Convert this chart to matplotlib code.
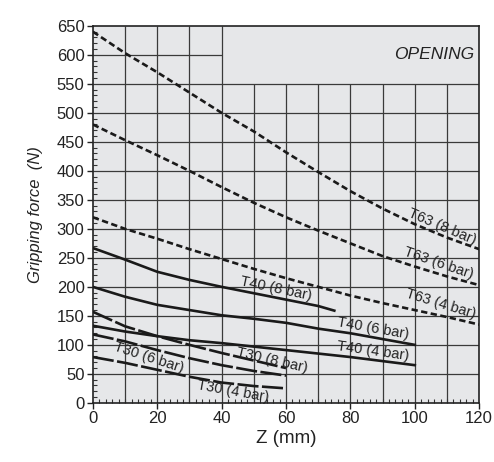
import numpy as np
import matplotlib
matplotlib.use("Agg")
import matplotlib.pyplot as plt

# stroke Z (mm) at each sample point
z_long = [0, 10, 20, 30, 40, 50, 60, 70, 80, 90, 100, 110, 120]
z_t40_8 = [0, 10, 20, 30, 40, 50, 60, 70, 75]
z_t40 = [0, 10, 20, 30, 40, 50, 60, 70, 80, 90, 100]
z_t30 = [0, 10, 20, 30, 40, 50, 60]

# gripping force (N)
t63_8 = [640, 603, 570, 535, 500, 468, 432, 398, 365, 335, 308, 285, 265]
t63_6 = [480, 453, 427, 400, 372, 345, 320, 297, 275, 253, 235, 218, 203]
t63_4 = [320, 300, 283, 265, 248, 231, 215, 200, 185, 172, 160, 148, 135]
t40_8 = [267, 247, 226, 212, 200, 189, 178, 167, 159]
t40_6 = [200, 183, 169, 160, 151, 145, 138, 128, 120, 110, 100]
t40_4 = [133, 123, 115, 108, 103, 97, 91, 85, 79, 72, 65]
t30_8 = [157, 132, 115, 100, 86, 73, 60]
t30_6 = [118, 106, 91, 77, 65, 55, 47]
t30_4 = [79, 69, 57, 45, 35, 29, 25]

# label text, anchor (z, force), rotation
labels = [
    ("T63 (8 bar)", 108.5, 303, -23),
    ("T63 (6 bar)", 107.5, 240, -19),
    ("T63 (4 bar)", 108.0, 170, -17),
    ("T40 (8 bar)", 57.0, 197, -12),
    ("T40 (6 bar)", 87.0, 128, -10),
    ("T40 (4 bar)", 87.0, 89, -8),
    ("T30 (8 bar)", 55.6, 74, -13),
    ("T30 (6 bar)", 17.4, 78, -18),
    ("T30 (4 bar)", 43.5, 20, -10),
]

plt.rcParams["font.family"] = ["Liberation Sans", "DejaVu Sans"]

fig = plt.figure(figsize=(4.94, 4.62), dpi=100)
ax = fig.add_axes([0.188, 0.128, 0.782, 0.816])
ax.set_facecolor("#e6e7e9")

grid_kw = dict(color="#3a3a3a", lw=0.9, zorder=1)
for x in range(10, 120, 10):
    top = 650 if x <= 40 else 550
    ax.vlines(x, 0, top, **grid_kw)
for y in range(50, 600, 50):
    ax.hlines(y, 0, 120, **grid_kw)
ax.hlines(600, 0, 40, **grid_kw)

short_dash = (0, (2.4, 1.3))
long_dash = (0, (8, 1.3))
lw = 1.9
ink = "#1a1a1a"

ax.plot(z_long, t63_8, color=ink, lw=lw, ls=short_dash, zorder=3)
ax.plot(z_long, t63_6, color=ink, lw=lw, ls=short_dash, zorder=3)
ax.plot(z_long, t63_4, color=ink, lw=lw, ls=short_dash, zorder=3)
ax.plot(z_t40_8, t40_8, color=ink, lw=lw, zorder=3)
ax.plot(z_t40, t40_6, color=ink, lw=lw, zorder=3)
ax.plot(z_t40, t40_4, color=ink, lw=lw, zorder=3)
ax.plot(z_t30, t30_8, color=ink, lw=lw, ls=long_dash, zorder=3)
ax.plot(z_t30, t30_6, color=ink, lw=lw, ls=long_dash, zorder=3)
ax.plot(z_t30, t30_4, color=ink, lw=lw, ls=long_dash, zorder=3)

for text, x, y, rot in labels:
    ax.text(x, y, text, rotation=rot, ha="center", va="center",
            fontsize=10.5, color="#222222", zorder=4,
            rotation_mode="anchor")

ax.text(106, 600, "OPENING", style="italic", fontsize=12.5,
        ha="center", va="center", color="#222222")

ax.set_xlim(0, 120)
ax.set_ylim(0, 650)
ax.set_xticks(range(0, 121, 20))
ax.set_yticks(range(0, 651, 50))
ax.set_xticks(np.arange(0, 121, 2), minor=True)
ax.set_yticks(range(0, 651, 10), minor=True)
ax.tick_params(which="major", direction="out", length=4, width=1,
               labelsize=12, colors="#222222", pad=2)
ax.tick_params(which="minor", direction="in", length=3, width=0.8,
               colors="#333333")
for s in ax.spines.values():
    s.set_linewidth(1.2)
    s.set_color("#222222")

ax.set_xlabel("Z (mm)", fontsize=13.5, color="#222222", labelpad=3)
ax.set_ylabel("Gripping force  (N)", fontsize=12, style="italic",
              color="#222222", labelpad=10)

fig.savefig("out.png", dpi=100)
